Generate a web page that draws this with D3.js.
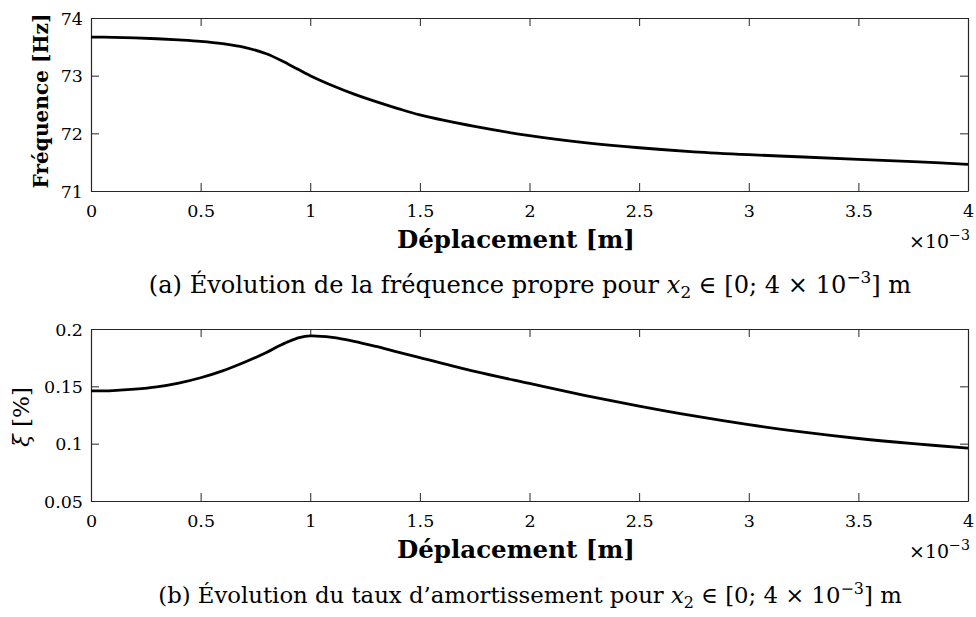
<!DOCTYPE html>
<html><head><meta charset="utf-8">
<script src="https://cdn.jsdelivr.net/npm/d3@7"></script>
<style>body{margin:0;background:#fff}svg{display:block}text{font-family:"DejaVu Serif","Liberation Serif",serif;fill:#000}</style>
</head><body><svg id="c" width="976" height="617"></svg>
<script>
// x in units of 1e-3 m
const freqX = [0,0.1,0.2,0.3,0.4,0.5,0.6,0.7,0.8,0.9,1.0,1.1,1.2,1.3,1.4,1.5,1.75,2.0,2.25,2.5,2.75,3.0,3.25,3.5,3.75,4.0];
const freqY = [73.67,73.665,73.655,73.64,73.62,73.595,73.555,73.49,73.38,73.2,73.0,72.83,72.68,72.55,72.43,72.32,72.12,71.96,71.84,71.75,71.68,71.63,71.59,71.55,71.51,71.46];
const dampX = [0,0.1,0.2,0.3,0.4,0.5,0.6,0.7,0.8,0.85,0.9,0.95,1.0,1.1,1.2,1.3,1.4,1.5,1.75,2.0,2.25,2.5,2.75,3.0,3.25,3.5,3.75,4.0];
const dampY = [0.146,0.1463,0.1475,0.1495,0.1528,0.1575,0.1635,0.171,0.1795,0.1845,0.189,0.1925,0.194,0.1927,0.1893,0.1848,0.1798,0.175,0.163,0.1525,0.1422,0.1328,0.1242,0.1166,0.110,0.1045,0.100,0.0962];
const xTicks = [0,0.5,1,1.5,2,2.5,3,3.5,4];
const xTickLabels = ["0","0.5","1","1.5","2","2.5","3","3.5","4"];
const freqTicks = [71,72,73,74];
const dampTicks = [0.05,0.1,0.15,0.2];

const svg = d3.select("#c");
const L = 91, R = 968;
const axisCol = "#262626";

function fitWidth(sel, target) {
  const fs = +sel.attr("font-size");
  const w = sel.node().getBBox().width;
  const nfs = fs * target / w;
  sel.attr("font-size", nfs);
  sel.selectAll("tspan").each(function(){
    const t = d3.select(this);
    if (t.attr("font-size")) t.attr("font-size", +t.attr("font-size") * nfs / fs);
    if (t.attr("dy")) t.attr("dy", +t.attr("dy") * nfs / fs);
  });
}

function panel(top, bottom, yDomain, yTicks, xs, ys, yfmt) {
  const x = d3.scaleLinear().domain([0,4]).range([L,R]);
  const y = d3.scaleLinear().domain(yDomain).range([bottom, top]);
  const g = svg.append("g");
  const tl = 8;
  const bx = g.append("g").attr("transform",`translate(0,${bottom})`)
    .call(d3.axisBottom(x).tickValues(xTicks).tickFormat((d,i)=>xTickLabels[i]).tickSizeInner(-tl).tickSizeOuter(0));
  const tx = g.append("g").attr("transform",`translate(0,${top})`)
    .call(d3.axisTop(x).tickValues(xTicks).tickFormat("").tickSizeInner(-tl).tickSizeOuter(0));
  const ly = g.append("g").attr("transform",`translate(${L},0)`)
    .call(d3.axisLeft(y).tickValues(yTicks).tickFormat(yfmt).tickSizeInner(-tl).tickSizeOuter(0).tickPadding(tl));
  const ry = g.append("g").attr("transform",`translate(${R},0)`)
    .call(d3.axisRight(y).tickValues(yTicks).tickFormat("").tickSizeInner(-tl).tickSizeOuter(0));
  [bx,tx,ly,ry].forEach(a=>{
    a.selectAll("path.domain").attr("stroke",axisCol).attr("stroke-width",1.2);
    a.selectAll(".tick line").attr("stroke",axisCol).attr("stroke-width",1);
    a.selectAll("text").attr("font-size",17.5).attr("fill","#111").style("font-family",'"DejaVu Serif",serif');
  });
  bx.selectAll(".tick text").attr("dy",null).attr("y",26);
  ly.selectAll(".tick text").attr("dy","0.36em");
  const data = xs.map((v,i)=>[v,ys[i]]);
  g.append("path").datum(data)
    .attr("d", d3.line().x(d=>x(d[0])).y(d=>y(d[1])).curve(d3.curveCatmullRom.alpha(0.5)))
    .attr("fill","none").attr("stroke","#000").attr("stroke-width",2.8).attr("stroke-linejoin","round");
  const xl = g.append("text").attr("x",516).attr("y",bottom+57).attr("text-anchor","middle")
    .attr("font-size",19).attr("font-weight","bold").text("Déplacement [m]");
  fitWidth(xl, 238);
  const ex = g.append("text").attr("x",909).attr("y",bottom+57).attr("font-size",16);
  ex.append("tspan").text("×10");
  ex.append("tspan").attr("dy",-7).attr("font-size",12).text("−3");
  fitWidth(ex, 61);
  return {x,y};
}

panel(18, 191, [71,74], freqTicks, freqX, freqY, d3.format("d"));
panel(329, 501, [0.05,0.2], dampTicks, dampX, dampY, d=>String(+d.toFixed(2)));

const fl = svg.append("text").attr("transform","translate(48,101) rotate(-90)").attr("text-anchor","middle")
  .attr("font-size",19).attr("font-weight","bold").text("Fréquence [Hz]");
fitWidth(fl, 175);
const yl = svg.append("text").attr("transform","translate(29,417) rotate(-90)").attr("text-anchor","middle")
  .attr("font-size",19);
yl.append("tspan").attr("font-style","italic").text("ξ");
yl.append("tspan").text(" [%]");
fitWidth(yl, 60);

function caption(yy, prefix, width) {
  const t = svg.append("text").attr("x",530).attr("y",yy).attr("text-anchor","middle").attr("font-size",20);
  t.append("tspan").text(prefix + " pour ");
  t.append("tspan").attr("font-style","italic").text("x");
  t.append("tspan").attr("dy",4).attr("font-size",14).text("2");
  t.append("tspan").attr("dy",-4).text(" ∈ [0; 4 × 10");
  t.append("tspan").attr("dy",-8).attr("font-size",14).text("−3");
  t.append("tspan").attr("dy",8).text("] m");
  fitWidth(t, width);
}
caption(293, "(a) Évolution de la fréquence propre", 763);
caption(603, "(b) Évolution du taux d’amortissement", 744);
</script></body></html>
